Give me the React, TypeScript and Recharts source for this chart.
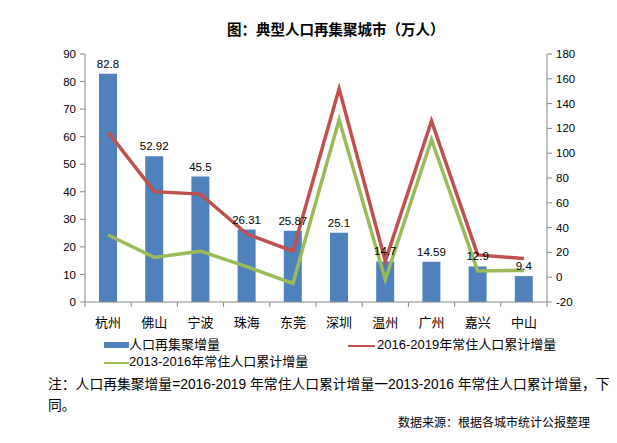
import React from 'react'
import { ComposedChart, Bar, Line, XAxis, YAxis, LabelList } from 'recharts'

const cities = ['杭州', '佛山', '宁波', '珠海', '东莞', '深圳', '温州', '广州', '嘉兴', '中山']
const regather = [82.8, 52.92, 45.5, 26.31, 25.87, 25.1, 14.7, 14.59, 12.9, 9.4]
const growth1619 = [117, 69, 67, 35, 21, 152, 13, 126, 18, 15]
const growth1316 = [34, 16, 21, 8.5, -5, 127, -2, 111, 5, 5.5]
const leftTicks = [0, 10, 20, 30, 40, 50, 60, 70, 80, 90]
const rightTicks = [-20, 0, 20, 40, 60, 80, 100, 120, 140, 160, 180]

const BLUE = '#4F81BD'
const RED = '#C0504D'
const GREEN = '#9BBB59'
const AXIS = '#868686'
const NUM_FONT = '"Liberation Sans", Arial, sans-serif'
const CJK_FONT = '"Liberation Sans", "Noto Sans CJK SC", sans-serif'

const data = cities.map((c, i) => ({
  city: c,
  regather: regather[i],
  g1619: growth1619[i],
  g1316: growth1316[i],
}))

// category labels plus small tick marks on the band edges (like Excel)
function CityTick(props: any) {
  const { x, y, payload, index, width } = props
  const band = (width || 462) / cities.length
  return (
    <g>
      <line x1={x - band / 2} x2={x - band / 2} y1={y} y2={y + 5} stroke={AXIS} />
      {index === cities.length - 1 && (
        <line x1={x + band / 2} x2={x + band / 2} y1={y} y2={y + 5} stroke={AXIS} />
      )}
      <text x={x} y={y + 25} textAnchor="middle" fontSize={13} fontFamily={CJK_FONT} fill="#000">
        {payload.value}
      </text>
    </g>
  )
}

export default function App() {
  const numTick = { fontSize: 11.5, fill: '#000', fontFamily: NUM_FONT }
  return (
    <div
      style={{
        position: 'absolute',
        left: 0,
        top: 0,
        width: 617,
        height: 443,
        background: '#fff',
        fontFamily: CJK_FONT,
        color: '#000',
      }}
    >
      <div
        style={{
          position: 'absolute',
          left: 227,
          top: 21,
          fontSize: 14.5,
          fontWeight: 'bold',
          whiteSpace: 'nowrap',
          lineHeight: '18px',
        }}
      >
        图：典型人口再集聚城市（万人）
      </div>

      <ComposedChart
        width={617}
        height={340}
        data={data}
        margin={{ top: 54, right: 30, left: 40, bottom: 0 }}
      >
        <XAxis
          dataKey="city"
          xAxisId="x"
          height={38}
          stroke={AXIS}
          tickLine={false}
          tickSize={0}
          tickMargin={0}
          interval={0}
          tick={<CityTick />}
        />
        <YAxis
          yAxisId="left"
          width={45}
          domain={[0, 90]}
          ticks={leftTicks}
          interval={0}
          stroke={AXIS}
          tick={numTick}
          tickSize={5}
          tickMargin={4}
        />
        <YAxis
          yAxisId="right"
          orientation="right"
          width={40}
          domain={[-20, 180]}
          ticks={rightTicks}
          interval={0}
          stroke={AXIS}
          tick={numTick}
          tickSize={5}
          tickMargin={4}
        />
        <Bar
          xAxisId="x"
          yAxisId="left"
          dataKey="regather"
          fill={BLUE}
          barSize={18}
          isAnimationActive={false}
        >
          <LabelList
            dataKey="regather"
            position="top"
            offset={6}
            fontSize={11.5}
            fill="#000"
            fontFamily={NUM_FONT}
          />
        </Bar>
        <Line
          xAxisId="x"
          yAxisId="right"
          type="linear"
          dataKey="g1619"
          stroke={RED}
          strokeWidth={3.5}
          dot={false}
          isAnimationActive={false}
        />
        <Line
          xAxisId="x"
          yAxisId="right"
          type="linear"
          dataKey="g1316"
          stroke={GREEN}
          strokeWidth={3.5}
          dot={false}
          isAnimationActive={false}
        />
      </ComposedChart>

      {/* legend */}
      <div style={{ position: 'absolute', left: 104, top: 342, width: 25, height: 6, background: BLUE }} />
      <div style={{ position: 'absolute', left: 129, top: 336, fontSize: 13, lineHeight: '18px', whiteSpace: 'nowrap' }}>
        人口再集聚增量
      </div>
      <div style={{ position: 'absolute', left: 348, top: 345, width: 27, height: 2, background: RED }} />
      <div style={{ position: 'absolute', left: 377, top: 336, fontSize: 13, lineHeight: '18px', whiteSpace: 'nowrap' }}>
        2016-2019年常住人口累计增量
      </div>
      <div style={{ position: 'absolute', left: 104, top: 362, width: 25, height: 2, background: GREEN }} />
      <div style={{ position: 'absolute', left: 129, top: 353, fontSize: 13, lineHeight: '18px', whiteSpace: 'nowrap' }}>
        2013-2016年常住人口累计增量
      </div>

      {/* note and source */}
      <div style={{ position: 'absolute', left: 48, top: 375, fontSize: 13.8, lineHeight: '20px', whiteSpace: 'nowrap' }}>
        注：人口再集聚增量=2016-2019 年常住人口累计增量一2013-2016 年常住人口累计增量，下
      </div>
      <div style={{ position: 'absolute', left: 48, top: 396, fontSize: 13.8, lineHeight: '20px', whiteSpace: 'nowrap' }}>
        同。
      </div>
      <div style={{ position: 'absolute', left: 398, top: 415, fontSize: 12, lineHeight: '16px', whiteSpace: 'nowrap' }}>
        数据来源：根据各城市统计公报整理
      </div>
    </div>
  )
}
